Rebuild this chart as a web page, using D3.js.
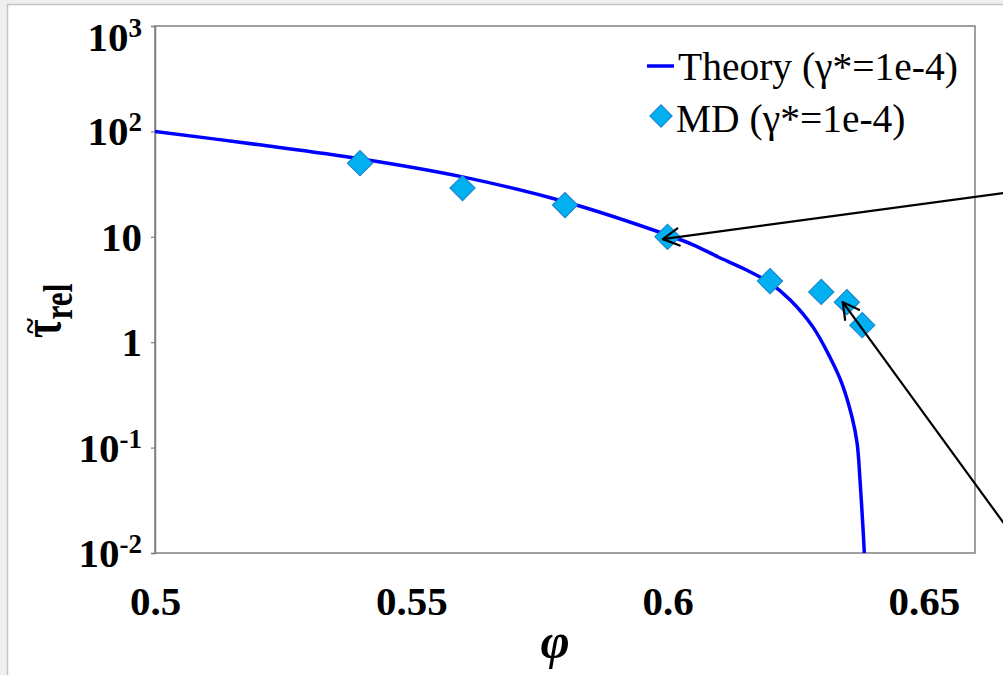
<!DOCTYPE html>
<html>
<head>
<meta charset="utf-8">
<script src="https://cdn.jsdelivr.net/npm/d3@7"></script>
<style>
  html, body { margin: 0; padding: 0; background: #efefef; }
  svg { display: block; }
  text { font-family: "Liberation Serif", "Times New Roman", serif; }
</style>
</head>
<body>
<svg id="chart" width="1003" height="675"></svg>
<script>
// Packing fraction values and relaxation times
const theoryPhi = [0.50, 0.52, 0.54, 0.56, 0.58, 0.60, 0.605, 0.61, 0.615, 0.62, 0.624, 0.6284, 0.6317, 0.634, 0.636, 0.637, 0.6376, 0.6382, 0.6384];
const theoryTau = [100, 75, 55, 37, 21.5, 10.4, 8.4, 6.4, 4.95, 3.65, 2.5, 1.39, 0.72, 0.41, 0.195, 0.11, 0.046, 0.0155, 0.01];

const mdPhi = [0.54, 0.56, 0.58, 0.60, 0.62, 0.63, 0.635, 0.638];
const mdTau = [50, 29, 20, 10, 3.8, 3.0, 2.4, 1.45];

const xTicks = [0.5, 0.55, 0.6, 0.65];
const xTickLabels = ["0.5", "0.55", "0.6", "0.65"];
const yTicks = [1e-2, 1e-1, 1, 10, 100, 1000];
const yTickBase = ["10", "10", "1", "10", "10", "10"];
const yTickExp = ["-2", "-1", "", "", "2", "3"];

const legendLabels = ["Theory (\u03b3*=1e-4)", "MD (\u03b3*=1e-4)"];

// Annotation arrows: tail (off the right edge) and head, in data units
const arrowTailPhi = [0.667, 0.667];
const arrowTailTau = [26.6, 0.0155];
const arrowHeadPhi = [0.5991, 0.6342];
const arrowHeadTau = [9.5, 2.4];

const svg = d3.select("#chart");
const W = 1003, H = 675;
const plot = { left: 155, top: 26, right: 975, bottom: 553 };

// Outer frame
svg.append("rect")
  .attr("x", 7.5).attr("y", 4.5)
  .attr("width", W).attr("height", H)
  .attr("fill", "#ffffff").attr("stroke", "#c4c4c4").attr("stroke-width", 1.5);

const x = d3.scaleLinear().domain([0.5, 0.66]).range([plot.left, plot.right]);
const y = d3.scaleLog().domain([0.01, 1000]).range([plot.bottom, plot.top]);

// Plot area border
svg.append("rect")
  .attr("x", plot.left).attr("y", plot.top)
  .attr("width", plot.right - plot.left).attr("height", plot.bottom - plot.top)
  .attr("fill", "none").attr("stroke", "#808080").attr("stroke-width", 1.5);

// Y axis: short outward ticks, labels drawn separately for superscripts
const yAxis = d3.axisLeft(y).tickValues(yTicks).tickSize(4).tickFormat("");
const yg = svg.append("g").attr("transform", `translate(${plot.left},0)`).call(yAxis);
yg.select(".domain").attr("stroke", "#808080").attr("stroke-width", 1.5);
yg.selectAll(".tick line").attr("stroke", "#808080").attr("stroke-width", 1.2);

const yLab = svg.append("g");
yTicks.forEach((v, i) => {
  const yy = Math.max(y(v), 37) + 14;
  const t = yLab.append("text")
    .attr("x", 142).attr("y", yy)
    .attr("text-anchor", "end")
    .attr("font-weight", "bold")
    .attr("font-size", 41)
    .attr("fill", "#000");
  t.append("tspan").text(yTickBase[i]);
  if (yTickExp[i]) {
    t.append("tspan").attr("font-size", 27).attr("dy", -14).text(yTickExp[i]);
  }
});

// X axis: labels only
const xAxis = d3.axisBottom(x).tickValues(xTicks).tickSize(0)
  .tickFormat((d, i) => xTickLabels[i]);
const xg = svg.append("g").attr("transform", `translate(0,${plot.bottom})`).call(xAxis);
xg.select(".domain").remove();
xg.selectAll(".tick text")
  .attr("y", 0).attr("dy", 62)
  .attr("font-family", "Liberation Serif, Times New Roman, serif")
  .attr("font-weight", "bold")
  .attr("font-size", 41)
  .attr("fill", "#000");

// Axis titles
svg.append("text")
  .attr("x", 555).attr("y", 658)
  .attr("text-anchor", "middle")
  .attr("font-weight", "bold").attr("font-style", "italic")
  .attr("font-size", 50)
  .text("\u03c6");

const yTitle = svg.append("text")
  .attr("transform", "translate(60,338) rotate(-90) scale(0.87,1.2)")
  .attr("font-weight", "bold");
yTitle.append("tspan").attr("font-size", 46).text("\u03c4");
yTitle.append("tspan").attr("font-size", 36).attr("dy", 10).text("rel");
svg.append("text")
  .attr("transform", "translate(40,326) rotate(-90)")
  .attr("text-anchor", "middle")
  .attr("font-weight", "bold")
  .attr("font-size", 30)
  .text("~");

// Theory curve
svg.append("clipPath").attr("id", "plotclip")
  .append("rect").attr("x", plot.left).attr("y", plot.top - 2)
  .attr("width", plot.right - plot.left).attr("height", plot.bottom - plot.top + 2);

const theory = theoryPhi.map((p, i) => [p, theoryTau[i]]);
svg.append("path")
  .datum(theory)
  .attr("clip-path", "url(#plotclip)")
  .attr("fill", "none")
  .attr("stroke", "#0000ff")
  .attr("stroke-width", 3.5)
  .attr("d", d3.line().x(d => x(d[0])).y(d => y(d[1])).curve(d3.curveCatmullRom.alpha(0.5)));

// MD points as diamonds
const md = mdPhi.map((p, i) => [p, mdTau[i]]);
const diamond = d3.symbol().type(d3.symbolSquare).size(320);
svg.append("g").selectAll("path")
  .data(md).join("path")
  .attr("d", diamond)
  .attr("transform", d => `translate(${x(d[0])},${y(d[1])}) rotate(45)`)
  .attr("fill", "#00b0f0")
  .attr("stroke", "#1a7fc8")
  .attr("stroke-width", 1);

// Legend
const lg = svg.append("g");
lg.append("line")
  .attr("x1", 647).attr("x2", 674).attr("y1", 66).attr("y2", 66)
  .attr("stroke", "#0000ff").attr("stroke-width", 3.5);
lg.append("text").attr("x", 678).attr("y", 80)
  .attr("font-size", 39.5).text(legendLabels[0]);
lg.append("path")
  .attr("d", d3.symbol().type(d3.symbolSquare).size(250))
  .attr("transform", "translate(661,116) rotate(45)")
  .attr("fill", "#00b0f0").attr("stroke", "#1a7fc8").attr("stroke-width", 1);
lg.append("text").attr("x", 676).attr("y", 132)
  .attr("font-size", 39.5).text(legendLabels[1]);

// Annotation arrows with open heads
const ag = svg.append("g").attr("stroke", "#000").attr("fill", "none")
  .attr("stroke-width", 2.2).attr("stroke-linecap", "round").attr("stroke-linejoin", "round");
arrowTailPhi.forEach((_, i) => {
  const x0 = x(arrowTailPhi[i]), y0 = y(arrowTailTau[i]);
  const x1 = x(arrowHeadPhi[i]), y1 = y(arrowHeadTau[i]);
  ag.append("line").attr("x1", x0).attr("y1", y0).attr("x2", x1).attr("y2", y1);
  const ang = Math.atan2(y0 - y1, x0 - x1);
  const len = 18, spread = 0.5;
  const w1 = [x1 + len * Math.cos(ang - spread), y1 + len * Math.sin(ang - spread)];
  const w2 = [x1 + len * Math.cos(ang + spread), y1 + len * Math.sin(ang + spread)];
  ag.append("path").attr("d", `M${w1[0]},${w1[1]}L${x1},${y1}L${w2[0]},${w2[1]}`);
});
</script>
</body>
</html>
